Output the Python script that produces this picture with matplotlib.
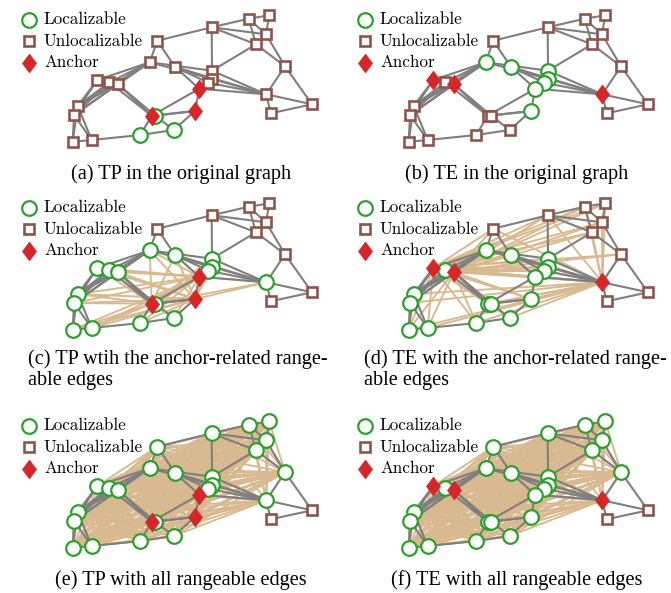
import matplotlib
matplotlib.use('Agg')
import matplotlib.pyplot as plt
from matplotlib.path import Path
from matplotlib.collections import LineCollection
from itertools import combinations

# node layout, pixels inside one panel (y grows downwards)
node_x = [211.7, 248.7, 269.3, 266.0, 256.0, 157.3, 149.7, 175.0, 212.0, 212.3,
          208.3, 199.3, 285.0, 97.3, 109.3, 117.7, 266.3, 312.0, 270.7, 77.7,
          74.0, 72.7, 91.7, 151.7, 155.3, 195.0, 173.7, 140.3]
node_y = [27.3, 18.7, 15.3, 34.3, 44.3, 40.7, 62.3, 67.0, 70.7, 79.0,
          82.7, 88.7, 66.3, 80.0, 82.3, 84.0, 94.3, 104.3, 113.3, 106.0,
          115.0, 141.7, 140.0, 115.7, 115.7, 111.0, 130.0, 135.0]

# edges of the original graph
graph_edges = [(5, 0), (0, 1), (0, 3), (0, 4), (1, 2), (1, 3), (1, 4), (2, 3), (3, 4),
               (3, 12), (4, 12), (0, 8), (4, 8), (12, 16), (12, 17), (16, 17), (16, 18),
               (17, 18), (5, 6), (5, 7), (6, 8), (6, 9), (7, 9), (7, 10), (7, 11),
               (7, 16), (8, 16), (9, 16), (10, 16), (11, 16), (6, 13), (6, 14), (6, 15),
               (6, 19), (6, 20), (13, 14), (14, 15), (13, 19), (14, 19), (15, 19),
               (13, 20), (15, 20), (14, 20), (15, 23), (14, 23), (15, 24), (23, 11),
               (23, 25), (24, 25), (11, 25), (11, 9), (11, 10), (8, 9), (9, 10),
               (25, 26), (23, 27), (24, 26), (27, 22), (27, 26), (22, 21), (19, 20),
               (20, 21), (19, 22), (20, 22), (19, 21)]

# L = localizable, U = unlocalizable, A = anchor
panel_types = ["UUUUUUUUUUUAUUUUUUUUUUUALALL",
               "UUUUUULLLLLLUAUAAUUUUUUUULUU",
               "UUUUUULLLLLAULLLLUULLLLALALL",
               "UUUUUULLLLLLUALAAUULLLLLLLLL",
               "LLLLLLLLLLLALLLLLUULLLLALALL",
               "LLLLLLLLLLLLLALAAUULLLLLLLLL"]
# rangeable edges: None, anchor-related, or all
panel_tan = [None, None, 'anchor', 'anchor', 'all', 'all']
# nodes out of ranging distance
out_of_range = [[], [], [], [17, 18], [], []]

captions = [["(a) TP in the original graph"],
            ["(b) TE in the original graph"],
            ["(c) TP wtih the anchor-related range-", "able edges"],
            ["(d) TE with the anchor-related range-", "able edges"],
            ["(e) TP with all rangeable edges"],
            ["(f) TE with all rangeable edges"]]
legend_labels = ["Localizable", "Unlocalizable", "Anchor"]

col_off = [0, 336]
row_off = [0, 188, 406]

c_green = '#2ca02c'
c_brown = '#8c564b'
c_red = '#d62728'
c_gray = '#7f7f7f'
c_tan = '#d9b98f'

diamond = Path([(0, 1), (0.75, 0), (0, -1), (-0.75, 0), (0, 1)],
               [Path.MOVETO, Path.LINETO, Path.LINETO, Path.LINETO, Path.CLOSEPOLY])
style = {'L': dict(marker='o', ms=10.5, mfc='white', mec=c_green, mew=1.6),
         'U': dict(marker='s', ms=7.0, mfc='white', mec=c_brown, mew=1.9),
         'A': dict(marker=diamond, ms=13.5, mfc=c_red, mec=c_red, mew=0.5)}

fig = plt.figure(figsize=(6.71, 5.93), dpi=100)
ax = fig.add_axes([0, 0, 1, 1])
ax.set_xlim(0, 671)
ax.set_ylim(593, 0)
ax.axis('off')

for p in range(6):
    dx = col_off[p % 2]
    dy = row_off[p // 2]
    types = panel_types[p]
    xs = [x + dx for x in node_x]
    ys = [y + dy for y in node_y]

    # rangeable edges
    if panel_tan[p] is not None:
        if panel_tan[p] == 'all':
            pool = [i for i in range(len(xs)) if types[i] != 'U']
        else:
            pool = [i for i in range(len(xs))
                    if (types[i] != 'U' or p == 3) and i not in out_of_range[p]]
        segs = []
        for i, j in combinations(pool, 2):
            if panel_tan[p] == 'anchor' and types[i] != 'A' and types[j] != 'A':
                continue
            segs.append([(xs[i], ys[i]), (xs[j], ys[j])])
        ax.add_collection(LineCollection(segs, colors=c_tan, linewidths=1.4, zorder=1))

    segs = [[(xs[i], ys[i]), (xs[j], ys[j])] for i, j in graph_edges]
    ax.add_collection(LineCollection(segs, colors=c_gray, linewidths=1.5, zorder=2))

    for k, z in (('U', 3), ('L', 3), ('A', 4)):
        idx = [i for i in range(len(xs)) if types[i] == k]
        ax.plot([xs[i] for i in idx], [ys[i] for i in idx], ls='None', zorder=z, **style[k])

    # legend
    for r, (k, lab) in enumerate(zip(['L', 'U', 'A'], legend_labels)):
        ly = dy + 19.5 + r * 21.5
        ax.plot([29 + dx], [ly], ls='None', zorder=5, **style[k])
        ax.text(44 + dx, ly, lab, family='cmr10', fontsize=12.3, va='center', ha='left')

    # caption
    lines = captions[p]
    if len(lines) == 1:
        ax.text(181 + dx, dy + 174, lines[0], family='Liberation Serif', fontsize=14.6,
                ha='center', va='center')
    else:
        for r, t in enumerate(lines):
            ax.text(28 + dx, dy + 171 + r * 22, t, family='Liberation Serif', fontsize=14.6,
                    ha='left', va='center')

fig.savefig('out.png', dpi=100)
